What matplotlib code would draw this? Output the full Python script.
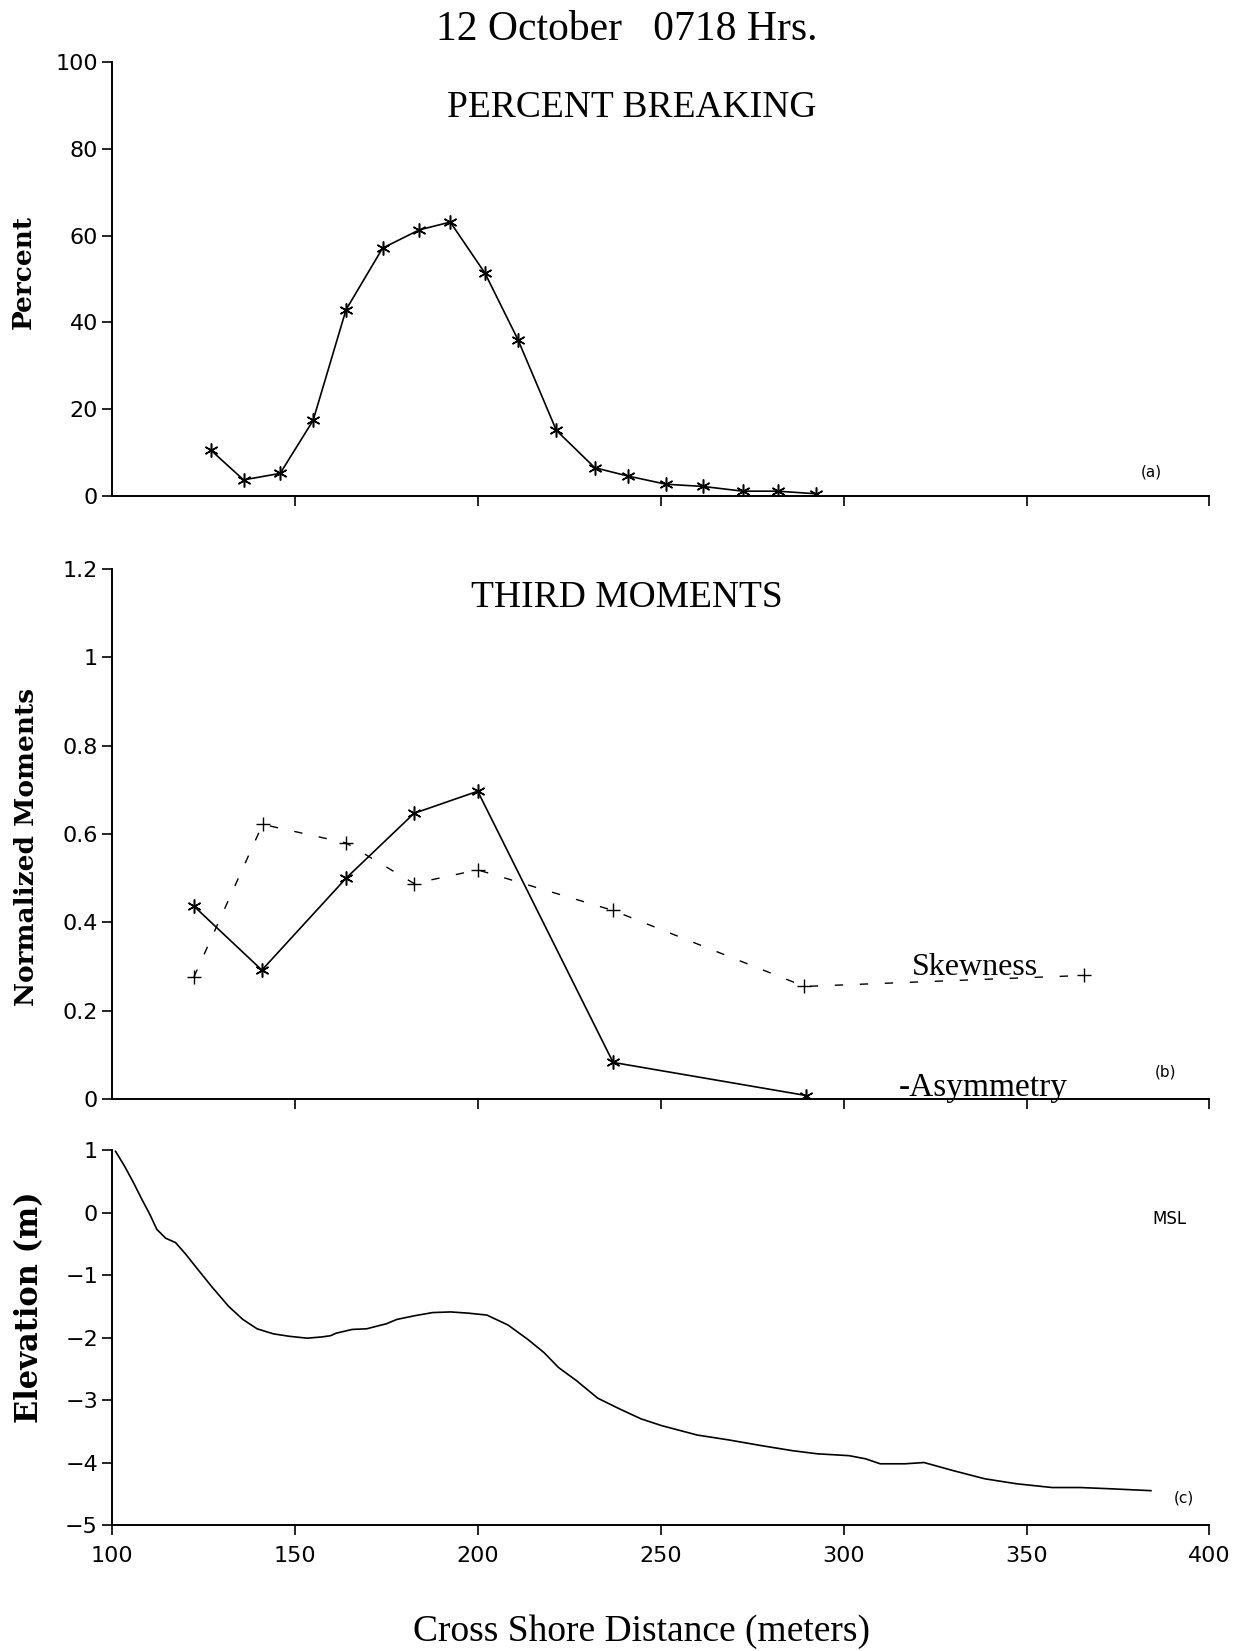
import matplotlib.pyplot as plt

plt.rcParams['font.family'] = ['DejaVu Sans']
SERIF = ['Liberation Serif', 'DejaVu Serif']
LABEL_SERIF = ['DejaVu Serif']

# (a) percent breaking
brk_x = [127, 136, 146, 155, 164, 174, 184, 192.5, 202, 211, 221.5, 232, 241, 251.5, 261.5, 272.5, 282, 292.5]
brk_pct = [10.6, 3.7, 5.2, 17.4, 42.9, 57.1, 61.3, 63.1, 51.3, 36.0, 15.1, 6.5, 4.6, 2.7, 2.2, 1.1, 1.1, 0.5]

# (b) third moments
asym_x = [122.4, 141, 164, 182.6, 200, 237, 289.8]
asym = [0.437, 0.292, 0.500, 0.647, 0.697, 0.083, 0.008]
skew_x = [122.4, 141.2, 164, 182.6, 200, 237, 289.3, 365.7]
skew = [0.276, 0.622, 0.580, 0.488, 0.519, 0.427, 0.255, 0.280]

# (c) bottom profile
prof_x = [101, 103.4, 105.9, 108.3, 110.3, 112.3, 114.7, 117.4, 120.1, 123.5, 127.5, 131.9,
          135.8, 139.7, 144.1, 148.5, 153.4, 157.4, 159.8, 161.3, 165.7, 169.6, 175, 177.9,
          182.8, 187.7, 192.6, 197.5, 202.5, 208.3, 213.7, 218.1, 222.1, 227, 232.8, 238.7,
          244.6, 250.3, 260, 268.8, 277.6, 286, 292.8, 301.5, 306, 310, 316.8, 322, 330,
          338.6, 347.3, 357, 364.7, 373, 384]
prof_z = [0.98, 0.75, 0.48, 0.20, -0.02, -0.27, -0.41, -0.48, -0.66, -0.91, -1.20, -1.50,
          -1.71, -1.86, -1.94, -1.98, -2.01, -1.99, -1.97, -1.93, -1.87, -1.86, -1.78, -1.71,
          -1.65, -1.60, -1.59, -1.61, -1.64, -1.80, -2.03, -2.24, -2.48, -2.69, -2.97, -3.14,
          -3.30, -3.41, -3.56, -3.64, -3.73, -3.81, -3.86, -3.89, -3.94, -4.02, -4.02, -4.0, -4.13,
          -4.26, -4.34, -4.40, -4.40, -4.42, -4.45]

star = (6, 2, 0)

fig = plt.figure(figsize=(12.43, 16.51), dpi=100)
ax1 = fig.add_axes([0.090, 0.6996, 0.883, 0.2629])
ax2 = fig.add_axes([0.090, 0.3343, 0.883, 0.3210])
ax3 = fig.add_axes([0.090, 0.0763, 0.883, 0.2271])

for ax in (ax1, ax2, ax3):
    ax.set_xlim(100, 400)
    for s in ('top', 'right'):
        ax.spines[s].set_visible(False)
    for s in ('left', 'bottom'):
        ax.spines[s].set_linewidth(1.4)
    ax.tick_params(direction='out', length=7, width=1.2, labelsize=16, pad=3)

# panel a
ax1.plot(brk_x, brk_pct, color='black', lw=1.2, marker=star, ms=10, mew=1.1)
ax1.set_ylim(0, 100)
ax1.set_yticks([0, 20, 40, 60, 80, 100])
ax1.set_xticks([150, 200, 250, 300, 350, 400])
ax1.tick_params(axis='x', labelbottom=False)
ax1.text(384, 5.6, '(a)', fontsize=11, ha='center', va='center')

# panel b
ax2.plot(asym_x, asym, color='black', lw=1.2, marker=star, ms=10, mew=1.1)
ax2.plot(skew_x, skew, color='black', lw=1.0, dashes=(6, 12), marker='+', ms=10, mew=1.0)
ax2.set_ylim(0, 1.2)
ax2.set_yticks([0, 0.2, 0.4, 0.6, 0.8, 1.0, 1.2])
ax2.set_yticklabels(['0', '0.2', '0.4', '0.6', '0.8', '1', '1.2'])
ax2.set_xticks([150, 200, 250, 300, 350, 400])
ax2.tick_params(axis='x', labelbottom=False)
ax2.text(336, 0.297, 'Skewness', fontsize=23, family=SERIF, ha='center', va='center')
ax2.text(315, 0.025, '-Asymmetry', fontsize=24, family=SERIF, ha='left', va='center')
ax2.text(388, 0.062, '(b)', fontsize=11, ha='center', va='center')

# panel c
ax3.plot(prof_x, prof_z, color='black', lw=1.2)
ax3.set_ylim(-5, 1)
ax3.set_yticks([-5, -4, -3, -2, -1, 0, 1])
ax3.set_yticklabels(['\u22125', '\u22124', '\u22123', '\u22122', '\u22121', '0', '1'])
ax3.set_xticks([100, 150, 200, 250, 300, 350, 400])
ax3.tick_params(axis='x', pad=8)
ax3.text(389, -0.10, 'MSL', fontsize=12, ha='center', va='center')
ax3.text(393, -4.56, '(c)', fontsize=11, ha='center', va='center')

# figure texts
fig.text(0.504, 0.982, '12 October   0718 Hrs.', fontsize=30, family=SERIF, ha='center', va='center')
fig.text(0.508, 0.935, 'PERCENT BREAKING', fontsize=27, family=SERIF, ha='center', va='center')
fig.text(0.504, 0.638, 'THIRD MOMENTS', fontsize=27, family=SERIF, ha='center', va='center')
fig.text(0.019, 0.835, 'Percent', fontsize=19, family=LABEL_SERIF, fontweight='bold',
         rotation=90, ha='center', va='center')
fig.text(0.021, 0.487, 'Normalized Moments', fontsize=19, family=LABEL_SERIF, fontweight='bold',
         rotation=90, ha='center', va='center')
fig.text(0.024, 0.208, 'Elevation (m)', fontsize=22, family=LABEL_SERIF, fontweight='bold',
         rotation=90, ha='center', va='center')
fig.text(0.516, 0.012, 'Cross Shore Distance (meters)', fontsize=27, family=SERIF,
         ha='center', va='center')

plt.savefig('out.png', dpi=100)
